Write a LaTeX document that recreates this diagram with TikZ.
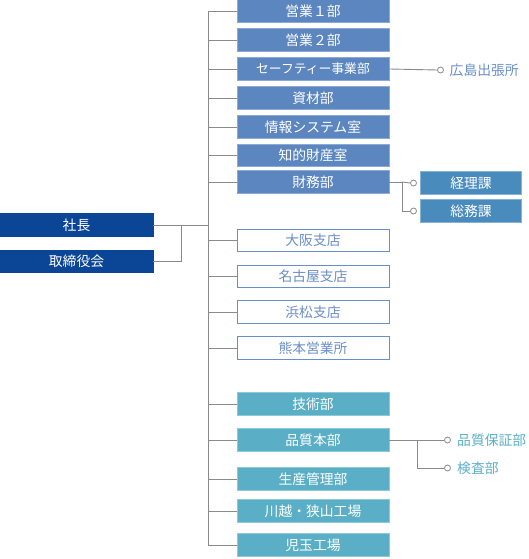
\documentclass[tikz,border=0pt]{standalone}
\usepackage{fontspec}
\setmainfont{Noto Sans CJK JP}
\definecolor{cA}{HTML}{5B86BF}
\definecolor{cAb}{HTML}{8DAAD6}
\definecolor{cB}{HTML}{6A8EC6}
\definecolor{cT}{HTML}{5AAFC6}
\definecolor{cTb}{HTML}{8CCADA}
\definecolor{cK}{HTML}{4A8BBE}
\definecolor{cKb}{HTML}{86B2D6}
\definecolor{cD}{HTML}{0A4596}
\definecolor{cL}{HTML}{8A8A8A}
\begin{document}
\begin{tikzpicture}[x=1pt,y=-1pt,
  unit/.style={minimum width=152pt, minimum height=22.5pt, inner sep=0pt, font=\fontsize{13.8}{15}\selectfont, line width=0.8pt},
  fillA/.style={unit, fill=cA, draw=cAb, text=white},
  outl/.style={unit, fill=white, draw=cB, text=cB},
  tealbox/.style={unit, fill=cT, draw=cTb, text=white},
  kbox/.style={unit, minimum width=101pt, fill=cK, draw=cKb, text=white},
  dbox/.style={unit, minimum width=153pt, fill=cD, draw=cD, text=white},
  conn/.style={draw=cL, line width=0.9pt},
  dotc/.style={circle, draw=cL, fill=white, inner sep=0pt, minimum size=6pt, line width=0.8pt},
  lblA/.style={anchor=west, inner sep=0pt, font=\fontsize{13.8}{15}\selectfont, text=cB},
  lblT/.style={anchor=west, inner sep=0pt, font=\fontsize{13.8}{15}\selectfont, text=cT}
]
\useasboundingbox (0,0) rectangle (528,559);
% left
\node[dbox] (pres) at (76.5,225) {社長};
\node[dbox] (board) at (76.5,261.5) {取締役会};
% column
\node[fillA] (b1) at (313,11) {営業１部};
\node[fillA] (b2) at (313,40) {営業２部};
\node[fillA, font=\fontsize{12.8}{15}\selectfont] (b3) at (313,69) {セーフティー事業部};
\node[fillA] (b4) at (313,98) {資材部};
\node[fillA] (b5) at (313,127) {情報システム室};
\node[fillA] (b6) at (313,155.5) {知的財産室};
\node[fillA] (b7) at (313,182) {財務部};
\node[outl] (o1) at (313,240.5) {大阪支店};
\node[outl] (o2) at (313,276.5) {名古屋支店};
\node[outl] (o3) at (313,312) {浜松支店};
\node[outl] (o4) at (313,348) {熊本営業所};
\node[tealbox] (t1) at (313,404) {技術部};
\node[tealbox] (t2) at (313,440) {品質本部};
\node[tealbox] (t3) at (313,479) {生産管理部};
\node[tealbox] (t4) at (313,511) {川越・狭山工場};
\node[tealbox] (t5) at (313,545) {児玉工場};
% trunk
\coordinate (ttop) at (208,11);
\coordinate (tbot) at (208,545);
\coordinate (tmid) at (208,225);
\coordinate (lj) at (181,225);
\draw[conn] (ttop) -- (tbot);
\foreach \n in {b1,b2,b3,b4,b5,b6,b7,o1,o2,o3,o4,t1,t2,t3,t4,t5}
  \draw[conn] (\n.west) -- (\n.west -| ttop);
\draw[conn] (pres.east) -- (tmid);
\draw[conn] (board.east) -| (lj);
% hiroshima
\node[dotc] (d1) at (440.5,70) {};
\node[lblA] (hir) at (449.5,70) {広島出張所};
\draw[conn] (b3.east) -- (d1.west);
% finance
\node[kbox] (k1) at (471,183) {経理課};
\node[kbox] (k2) at (471,211) {総務課};
\node[dotc] (d2) at (413.5,183) {};
\node[dotc] (d3) at (413.5,211) {};
\coordinate (fj) at (402,182);
\draw[conn] (b7.east) -- (fj) -- (fj |- d3) -- (d3.west);
\draw[conn] (fj) -- (d2.west);
% quality
\node[dotc] (d4) at (447.5,440) {};
\node[dotc] (d5) at (447.5,468) {};
\node[lblT] (q1) at (457,440) {品質保証部};
\node[lblT] (q2) at (457,468) {検査部};
\coordinate (qj) at (417,440);
\draw[conn] (t2.east) -- (d4.west);
\draw[conn] (qj) -- (qj |- d5) -- (d5.west);
\end{tikzpicture}
\end{document}
